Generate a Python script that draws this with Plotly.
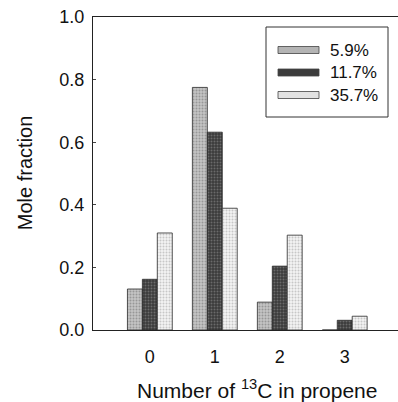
import plotly.graph_objects as go

# Number of 13C atoms per propene molecule
categories = [0, 1, 2, 3]
series_names = ["5.9%", "11.7%", "35.7%"]
frac_5_9 = [0.131, 0.775, 0.089, 0.0]
frac_11_7 = [0.162, 0.632, 0.204, 0.031]
frac_35_7 = [0.310, 0.389, 0.303, 0.044]
y_ticks = [0.0, 0.2, 0.4, 0.6, 0.8, 1.0]

fills = [
    dict(bg="#c4c4c4", fg="#6a6a6a"),
    dict(bg="#3a3a3a", fg="#9a9a9a"),
    dict(bg="#f2f2f2", fg="#9c9c9c"),
]
swatch_colors = ["#b4b4b4", "#3c3c3c", "#e2e2e2"]

FONT = "Liberation Sans, Arial, sans-serif"

fig = go.Figure()
for name, vals, f in zip(series_names, [frac_5_9, frac_11_7, frac_35_7], fills):
    fig.add_trace(go.Bar(
        x=categories, y=vals, name=name,
        marker=dict(
            color=f["bg"],
            line=dict(color="#2a2a2a", width=0.8),
            pattern=dict(shape=".", fgcolor=f["fg"], bgcolor=f["bg"],
                         size=3, solidity=0.35, fillmode="overlay"),
        ),
        showlegend=False,
    ))

fig.update_layout(
    width=398, height=402,
    margin=dict(l=93, r=0, t=17, b=72),
    paper_bgcolor="white", plot_bgcolor="white",
    barmode="group", bargap=0.31, bargroupgap=0.0,
    font=dict(family=FONT, size=18, color="#111"),
)
fig.update_xaxes(
    range=[-0.875, 3.82], tickvals=categories,
    showline=True, linecolor="#222", linewidth=1.2, mirror=True,
    ticks="", showgrid=False, zeroline=False,
    ticklabelstandoff=10, tickfont=dict(size=18),
)
fig.update_yaxes(
    range=[0, 1.0], tickvals=y_ticks, tickformat=".1f",
    showline=True, linecolor="#222", linewidth=1.2,
    ticks="inside", ticklen=3, tickcolor="#444",
    showgrid=False, zeroline=False,
    ticklabelstandoff=4, tickfont=dict(size=18),
)

# Axis titles
fig.add_annotation(text="Mole fraction", xref="paper", yref="paper",
                   x=-0.222, y=0.502, textangle=-90, showarrow=False,
                   font=dict(size=20), xanchor="center", yanchor="middle")
fig.add_annotation(text="Number of <sup>13</sup>C in propene", xref="paper", yref="paper",
                   x=0.538, y=-0.19, showarrow=False, font=dict(size=21),
                   xanchor="center", yanchor="middle")

# Legend box
def px_x(px):
    return (px - 93) / 305.0

def px_y(py):
    return (330 - py) / 313.0

fig.add_shape(type="rect", xref="paper", yref="paper",
              x0=px_x(266), x1=px_x(388), y0=px_y(117), y1=px_y(27),
              line=dict(color="#333", width=1), fillcolor="white", layer="above")
for i, (name, c) in enumerate(zip(series_names, swatch_colors)):
    cy = 50 + i * 22.5
    fig.add_shape(type="rect", xref="paper", yref="paper",
                  x0=px_x(278), x1=px_x(319), y0=px_y(cy + 3.5), y1=px_y(cy - 3.5),
                  line=dict(color="#444", width=0.8), fillcolor=c, layer="above")
    fig.add_annotation(text=name, xref="paper", yref="paper",
                       x=px_x(328), y=px_y(cy), showarrow=False,
                       xanchor="left", yanchor="middle", font=dict(size=17))

fig.write_html("out.html")
